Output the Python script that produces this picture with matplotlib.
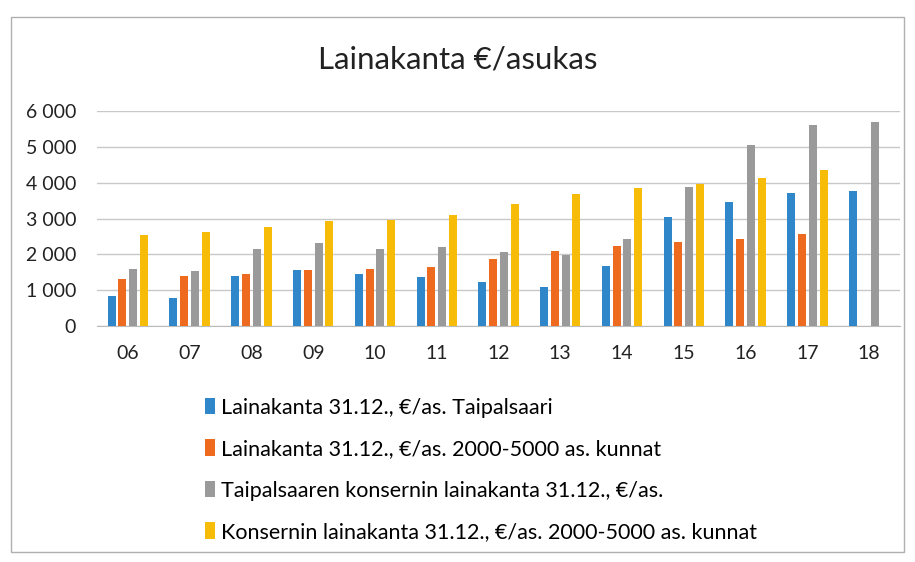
import numpy as np
import matplotlib
matplotlib.use('Agg')
import matplotlib.pyplot as plt
from matplotlib.ticker import FuncFormatter
from matplotlib.patches import Rectangle

plt.rcParams['font.family'] = ['Lato', 'DejaVu Sans']

# Data
years = ['06', '07', '08', '09', '10', '11', '12', '13', '14', '15', '16', '17', '18']
taipalsaari = [840, 780, 1400, 1550, 1460, 1360, 1230, 1100, 1680, 3050, 3460, 3720, 3770]
kunnat = [1310, 1400, 1450, 1550, 1580, 1650, 1870, 2080, 2230, 2350, 2430, 2580, np.nan]
konserni_taipalsaari = [1600, 1530, 2160, 2310, 2150, 2200, 2060, 1990, 2440, 3870, 5060, 5600, 5700]
konserni_kunnat = [2530, 2620, 2750, 2930, 2960, 3090, 3400, 3670, 3850, 3960, 4130, 4360, np.nan]

labels = ['Lainakanta 31.12., €/as. Taipalsaari',
          'Lainakanta 31.12., €/as. 2000-5000 as. kunnat',
          'Taipalsaaren konsernin lainakanta 31.12., €/as.',
          'Konsernin lainakanta 31.12., €/as. 2000-5000 as. kunnat']
colors = ['#2F86C8', '#EE6A1E', '#9A9A9A', '#F7BC08']
series = [taipalsaari, kunnat, konserni_taipalsaari, konserni_kunnat]

fig = plt.figure(figsize=(9.15, 5.62), dpi=100)
ax = fig.add_axes([97 / 915, 1 - 326 / 562, 803 / 915, 215 / 562])

x = np.arange(len(years))
step = 0.175
width = 0.13
for i, (vals, col, lab) in enumerate(zip(series, colors, labels)):
    ax.bar(x + (i - 1.5) * step, vals, width, color=col, label=lab, zorder=3)

ax.set_xlim(-0.5, len(years) - 0.5)
ax.set_ylim(0, 6000)
ax.set_yticks(range(0, 6001, 1000))
ax.yaxis.set_major_formatter(FuncFormatter(lambda v, p: f'{int(v):,}'.replace(',', ' ')))
ax.set_xticks(x)
ax.set_xticklabels(years)
ax.tick_params(axis='both', length=0, labelsize=14, colors='#222222')
ax.tick_params(axis='x', pad=14)
ax.tick_params(axis='y', pad=15)
ax.grid(axis='y', color='#C8C8C8', linewidth=1, zorder=0)
for s in ['top', 'right', 'left']:
    ax.spines[s].set_visible(False)
ax.spines['bottom'].set_color('#BBBBBB')

fig.text(0.5, 1 - 60 / 562, 'Lainakanta €/asukas', ha='center', va='center',
         fontsize=22.5, color='#222222')

handles, labs = ax.get_legend_handles_labels()
fig.legend(handles, labs, loc='upper left', bbox_to_anchor=(196 / 915, 1 - 389 / 562),
           frameon=False, fontsize=15.5, handlelength=0.5, handleheight=0.8,
           handletextpad=0.25, labelspacing=1.0, borderaxespad=0)

# chart frame
fig.patches.append(Rectangle((11 / 915, 1 - 552 / 562), 893 / 915, 535 / 562,
                             transform=fig.transFigure, fill=False,
                             edgecolor='#B0B0B0', linewidth=1))

fig.savefig('out.png', dpi=100)
